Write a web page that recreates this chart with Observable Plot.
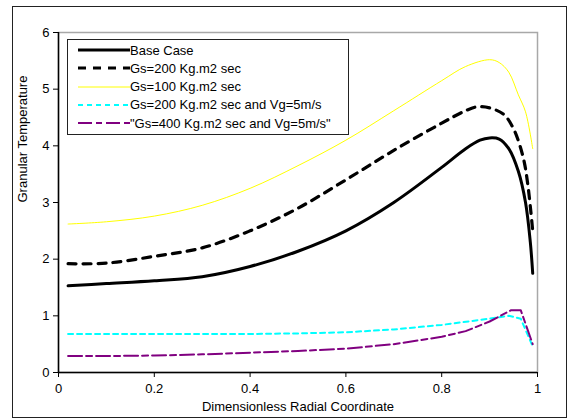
<!DOCTYPE html>
<html>
<head>
<meta charset="utf-8">
<script src="https://cdn.jsdelivr.net/npm/d3@7"></script>
<script src="https://cdn.jsdelivr.net/npm/@observablehq/plot@0.6"></script>
<style>
  html, body { margin: 0; padding: 0; background: #fff; }
  #wrap { position: relative; width: 577px; height: 419px; font-family: "Liberation Sans", Arial, sans-serif; }
  #outer { position: absolute; left: 12px; top: 6px; width: 553px; height: 410px; border: 1.5px solid #222; pointer-events: none; }
  #legend { position: absolute; left: 67px; top: 39px; width: 280px; height: 94px; border: 1px solid #222; background: #fff; font-size: 13px; color: #000; }
  #legend .row { position: absolute; left: 0; height: 18px; display: flex; align-items: center; }
  #legend svg { margin-left: 10px; }
  #legend span { white-space: nowrap; }
</style>
</head>
<body>
<div id="wrap"></div>
<script>
// Radial profiles of granular temperature
const xBase = [0.02, 0.1, 0.2, 0.3, 0.4, 0.5, 0.6, 0.7, 0.8, 0.85, 0.88, 0.9, 0.92, 0.94, 0.96, 0.975, 0.985, 0.99];
const yBase = [1.53, 1.57, 1.62, 1.69, 1.87, 2.14, 2.5, 3.0, 3.62, 3.95, 4.1, 4.14, 4.12, 3.95, 3.55, 3.0, 2.3, 1.75];

const xGs200 = [0.02, 0.1, 0.2, 0.3, 0.4, 0.5, 0.6, 0.7, 0.8, 0.85, 0.875, 0.9, 0.93, 0.95, 0.97, 0.98, 0.99];
const yGs200 = [1.92, 1.93, 2.05, 2.2, 2.5, 2.9, 3.4, 3.92, 4.4, 4.62, 4.69, 4.67, 4.55, 4.3, 3.8, 3.3, 2.5];

const xGs100 = [0.02, 0.1, 0.2, 0.3, 0.4, 0.5, 0.6, 0.7, 0.8, 0.85, 0.9, 0.92, 0.94, 0.96, 0.975, 0.99];
const yGs100 = [2.62, 2.66, 2.76, 2.95, 3.25, 3.65, 4.1, 4.62, 5.15, 5.4, 5.52, 5.47, 5.3, 4.9, 4.6, 3.95];

const xGs200Vg = [0.02, 0.1, 0.2, 0.3, 0.4, 0.5, 0.6, 0.7, 0.8, 0.9, 0.94, 0.965, 0.99];
const yGs200Vg = [0.68, 0.68, 0.68, 0.68, 0.68, 0.69, 0.71, 0.76, 0.84, 0.95, 1.0, 0.95, 0.46];

const xGs400Vg = [0.02, 0.1, 0.2, 0.3, 0.4, 0.5, 0.6, 0.7, 0.8, 0.85, 0.9, 0.945, 0.965, 0.99];
const yGs400Vg = [0.29, 0.29, 0.3, 0.32, 0.35, 0.38, 0.42, 0.5, 0.63, 0.73, 0.9, 1.1, 1.1, 0.5];

const seriesNames = [
  "Base Case",
  "Gs=200 Kg.m2 sec",
  "Gs=100 Kg.m2 sec",
  "Gs=200 Kg.m2 sec and Vg=5m/s",
  "\"Gs=400 Kg.m2 sec and Vg=5m/s\""
];
const xTicks = [0, 0.2, 0.4, 0.6, 0.8, 1];
const yTicks = [0, 1, 2, 3, 4, 5, 6];

const styles = [
  { stroke: "#000", width: 3, dash: null, curve: "catmull-rom" },
  { stroke: "#000", width: 3.2, dash: "8,7", curve: "catmull-rom" },
  { stroke: "#ffff00", width: 1, dash: null, curve: "catmull-rom" },
  { stroke: "#00ffff", width: 2, dash: "5,4", curve: "linear" },
  { stroke: "#800080", width: 2, dash: "14,4,6,4", curve: "linear" }
];

const toRows = (xs, ys) => xs.map((x, i) => ({ x, y: ys[i] }));
const data = [
  toRows(xBase, yBase),
  toRows(xGs200, yGs200),
  toRows(xGs100, yGs100),
  toRows(xGs200Vg, yGs200Vg),
  toRows(xGs400Vg, yGs400Vg)
];

const plot = Plot.plot({
  width: 577,
  height: 419,
  marginLeft: 58,
  marginRight: 40,
  marginTop: 32,
  marginBottom: 47,
  style: { fontFamily: "Liberation Sans, Arial, sans-serif", fontSize: "13px", color: "#000", background: "transparent" },
  x: { domain: [0, 1], ticks: xTicks, tickFormat: d => String(d), label: null },
  y: { domain: [0, 6], ticks: yTicks, tickFormat: d => String(d), label: null },
  marks: [
    Plot.frame({ stroke: "#a8a8a8", strokeWidth: 1.5 }),
    ...data.map((rows, i) => Plot.line(rows, {
      x: "x", y: "y",
      stroke: styles[i].stroke,
      strokeWidth: styles[i].width,
      strokeDasharray: styles[i].dash,
      curve: styles[i].curve
    })),
    Plot.ruleX([0], { stroke: "#000", strokeWidth: 1.5 }),
    Plot.ruleY([0], { stroke: "#000", strokeWidth: 1.5 }),
    Plot.axisX({ ticks: xTicks, tickFormat: d => String(d), tickSize: 5, tickPadding: 6, stroke: "#000", fontSize: 13, label: null }),
    Plot.axisY({ ticks: yTicks, tickFormat: d => String(d), tickSize: 5, tickPadding: 4, stroke: "#000", fontSize: 13, label: null }),
    Plot.text(["Dimensionless Radial Coordinate"], { frameAnchor: "bottom", dy: 38, fontSize: 13, fill: "#000" }),
    Plot.text(["Granular Temperature"], { frameAnchor: "left", dx: -36, rotate: -90, fontSize: 13, fill: "#000" })
  ]
});

const wrap = document.getElementById("wrap");
wrap.appendChild(plot);
plot.style.position = "absolute";
plot.style.left = "0";
plot.style.top = "0";

const outer = document.createElement("div");
outer.id = "outer";
wrap.appendChild(outer);

// Legend box inside the plot area
const legend = document.createElement("div");
legend.id = "legend";
seriesNames.forEach((name, i) => {
  const row = document.createElement("div");
  row.className = "row";
  row.style.top = (1 + i * 18.3) + "px";
  const s = styles[i];
  row.innerHTML = `<svg width="52" height="10"><line x1="0" y1="5" x2="52" y2="5" stroke="${s.stroke}" stroke-width="${s.width}" ${s.dash ? `stroke-dasharray="${s.dash}"` : ""}/></svg><span>${name.replace(/"/g, "&quot;")}</span>`;
  legend.appendChild(row);
});
wrap.appendChild(legend);
</script>
</body>
</html>
